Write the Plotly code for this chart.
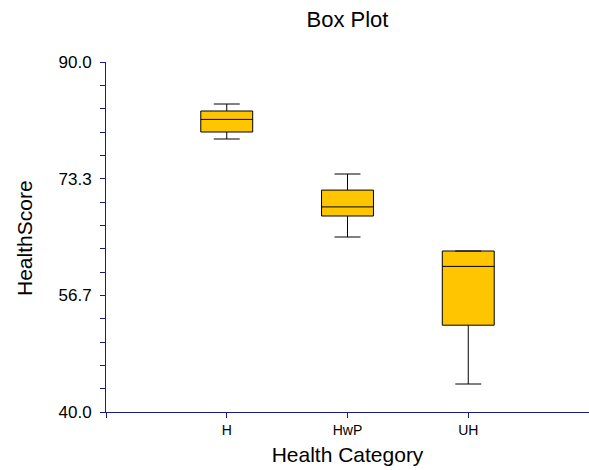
import plotly.graph_objects as go

categories = ["H", "HwP", "UH"]
lower_whisker = [79.0, 65.0, 44.0]
q1_values = [80.0, 68.0, 52.4]
medians = [81.8, 69.3, 60.8]
q3_values = [83.0, 71.7, 63.0]
upper_whisker = [84.0, 74.0, 63.0]

y_min, y_max = 40.0, 90.0
y_major_labels = ["40.0", "56.7", "73.3", "90.0"]

FONT = "Arial, Liberation Sans, sans-serif"
AXIS_COLOR = "#1a1a8a"
FILL = "#FFC600"

fig = go.Figure()
for i, cat in enumerate(categories):
    fig.add_trace(go.Box(
        x=[i],
        q1=[q1_values[i]], median=[medians[i]], q3=[q3_values[i]],
        lowerfence=[lower_whisker[i]], upperfence=[upper_whisker[i]],
        width=0.43, whiskerwidth=0.5,
        fillcolor=FILL, line=dict(color="black", width=1),
        boxpoints=False, name=cat, showlegend=False, hoverinfo="skip",
    ))

# y ticks: 15 intervals, label every 5th
n_int = 15
y_tickvals = [y_min + k * (y_max - y_min) / n_int for k in range(n_int + 1)]
y_ticktext = []
for k in range(n_int + 1):
    y_ticktext.append(y_major_labels[k // 5] if k % 5 == 0 else "")

x_tickvals = [-1] + list(range(len(categories)))
x_ticktext = [""] + categories

fig.update_layout(
    width=589, height=470,
    margin=dict(l=106, r=0, t=62, b=58),
    paper_bgcolor="white", plot_bgcolor="white",
    font=dict(family=FONT, color="black"),
    title=dict(text="Box Plot", x=0.5, xref="paper", xanchor="center",
               y=1 - 19.5 / 470, yref="container", yanchor="middle",
               font=dict(size=22, family=FONT, color="black")),
    xaxis=dict(range=[-1, 3], tickvals=x_tickvals, ticktext=x_ticktext,
               showgrid=False, zeroline=False, showline=True,
               linecolor=AXIS_COLOR, linewidth=1,
               ticks="outside", ticklen=5, tickcolor=AXIS_COLOR,
               tickfont=dict(size=14, family=FONT, color="black"),
               title=dict(text="Health Category", standoff=10,
                          font=dict(size=21, family=FONT, color="black"))),
    yaxis=dict(range=[y_min, y_max], tickvals=y_tickvals, ticktext=y_ticktext,
               showgrid=False, zeroline=False, showline=True,
               linecolor=AXIS_COLOR, linewidth=1,
               ticks="outside", ticklen=5, tickcolor=AXIS_COLOR,
               ticklabelstandoff=5,
               tickfont=dict(size=17, family=FONT, color="black")),
    annotations=[dict(text="HealthScore", textangle=-90,
                      xref="paper", yref="paper",
                      x=(24 - 106) / 483, y=(412 - 238) / 350,
                      xanchor="center", yanchor="middle", showarrow=False,
                      font=dict(size=21, family=FONT, color="black"))],
)

fig.write_html("out.html")
